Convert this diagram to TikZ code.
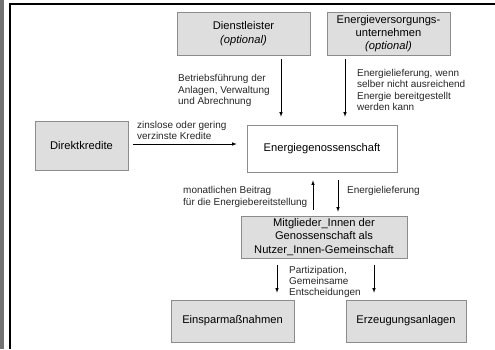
\documentclass[tikz,border=0pt]{standalone}
\usepackage{fontspec}
\setmainfont{Liberation Sans}
\usetikzlibrary{calc}

\begin{document}
\begin{tikzpicture}[x=1bp,y=-1bp,
    box/.style={draw=black!45,fill=black!13,line width=0.6pt,align=center,inner sep=0pt,
      font=\fontsize{11.2}{13.4}\selectfont},
    lbl/.style={anchor=west,align=left,inner sep=0pt,font=\fontsize{10}{11.4}\selectfont,text=black!85},
    pfeil/.style={-latex,line width=0.6pt}]
  \useasboundingbox (0,0) rectangle (495,349);
  \path[fill=black!55] (0,0) rectangle (3.5,349);
  \draw[line width=1.1pt] (10,349) -- (10,4) -- (495,4);

  \node[box,minimum width=133bp,minimum height=43bp] (dienst) at (243.5,33.5) {Dienstleister\\\textit{(optional)}};
  \node[box,minimum width=123bp,minimum height=43bp] (evu) at (388.5,33.5) {Energieversorgungs-\\unternehmen\\\textit{(optional)}};
  \node[box,minimum width=93bp,minimum height=49bp] (direkt) at (81.5,145.5) {Direktkredite};
  \node[box,fill=white,minimum width=150bp,minimum height=47bp] (genoss) at (322,148.5) {Energiegenossenschaft};
  \node[box,minimum width=166bp,minimum height=42bp] (mitgl) at (324,237) {Mitglieder\_Innen der\\Genossenschaft als\\Nutzer\_Innen-Gemeinschaft};
  \node[box,minimum width=123bp,minimum height=42bp] (einspar) at (232.5,321) {Einsparma\ss nahmen};
  \node[box,minimum width=120bp,minimum height=42bp] (erzeug) at (406,321) {Erzeugungsanlagen};

  \coordinate (xa) at (281,0);
  \coordinate (xb) at (345,0);
  \coordinate (xc) at (313,0);
  \coordinate (xd) at (338,0);
  \coordinate (xe) at (277,0);
  \coordinate (xf) at (374,0);
  \coordinate (yk) at (0,144);

  \draw[pfeil] ([yshift=-4bp]dienst.south -| xa) -- ([yshift=8bp]genoss.north -| xa);
  \draw[pfeil] ([yshift=-4bp]evu.south -| xb) -- ([yshift=8bp]genoss.north -| xb);
  \draw[pfeil] ([xshift=5bp]direkt.east |- yk) -- ([xshift=-10bp]genoss.west |- yk);
  \draw[pfeil] ([yshift=6bp]mitgl.north -| xc) -- ([yshift=-8bp]genoss.south -| xc);
  \draw[pfeil] ([yshift=-8bp]genoss.south -| xd) -- ([yshift=4bp]mitgl.north -| xd);
  \draw[pfeil] ([yshift=-7bp]mitgl.south -| xe) -- ([yshift=7bp]einspar.north -| xe);
  \draw[pfeil] ([yshift=-7bp]mitgl.south -| xf) -- ([yshift=7bp]erzeug.north -| xf);

  \node[lbl] (lkred) at (137,130.5) {zinslose oder gering\\verzinste Kredite};
  \node[lbl] (lbetr) at (178,90.5) {Betriebsf\"uhrung der\\Anlagen, Verwaltung\\und Abrechnung};
  \node[lbl] (lliefa) at (357,90) {Energielieferung, wenn\\selber nicht ausreichend\\Energie bereitgestellt\\werden kann};
  \node[lbl] (lbeitr) at (183,197) {monatlichen Beitrag\\f\"ur die Energiebereitstellung};
  \node[lbl] (llief) at (347,191) {Energielieferung};
  \node[lbl] (lpart) at (289,282) {Partizipation,\\Gemeinsame\\Entscheidungen};
\end{tikzpicture}
\end{document}
